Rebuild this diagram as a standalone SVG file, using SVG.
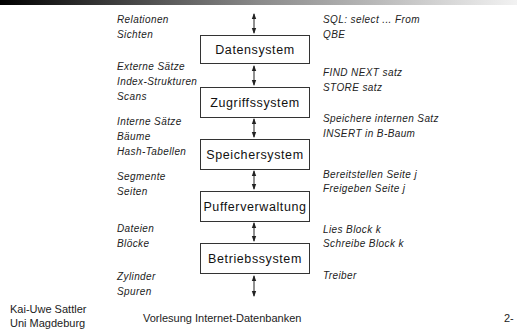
<svg xmlns="http://www.w3.org/2000/svg" width="517" height="335" viewBox="0 0 517 335">
<defs>
<linearGradient id="bar" x1="0" y1="0" x2="1" y2="0">
<stop offset="0" stop-color="#000"/>
<stop offset="0.5" stop-color="#8a8a8a"/>
<stop offset="1" stop-color="#f2f2f2"/>
</linearGradient>
<marker id="ah" viewBox="0 0 6 6" refX="5" refY="3" markerWidth="6" markerHeight="6" orient="auto-start-reverse" markerUnits="userSpaceOnUse">
<path d="M0,0.8 L6,3 L0,5.2 z" fill="#222"/>
</marker>
<style>
.box{fill:#fff;stroke:#333;stroke-width:1}
.bl{font-family:"Liberation Sans",Arial,sans-serif;font-size:12.5px;letter-spacing:0.6px;fill:#111;text-anchor:middle}
.t{font-family:"Liberation Sans",Arial,sans-serif;font-size:10px;font-style:italic;letter-spacing:0.4px;fill:#222}
.f{font-family:"Liberation Sans",Arial,sans-serif;font-size:11px;fill:#222}
.c{stroke:#222;stroke-width:1;fill:none;marker-start:url(#ah);marker-end:url(#ah)}
</style>
</defs>
<rect x="0" y="0" width="517" height="5" fill="url(#bar)"/>
<g id="connectors">
<line class="c" x1="254" y1="14" x2="254" y2="33"/>
<line class="c" x1="254" y1="66" x2="254" y2="85"/>
<line class="c" x1="254" y1="119" x2="254" y2="137"/>
<line class="c" x1="254" y1="171" x2="254" y2="189"/>
<line class="c" x1="254" y1="223" x2="254" y2="241"/>
<line class="c" x1="254" y1="276" x2="254" y2="296"/>
</g>
<g id="datensystem"><rect class="box" x="200.5" y="35.5" width="109" height="28"/><text class="bl" x="255" y="54">Datensystem</text></g>
<g id="zugriffssystem"><rect class="box" x="200.5" y="87.5" width="109" height="30"/><text class="bl" x="255" y="107">Zugriffssystem</text></g>
<g id="speichersystem"><rect class="box" x="200.5" y="139.5" width="109" height="30"/><text class="bl" x="255" y="159">Speichersystem</text></g>
<g id="pufferverwaltung"><rect class="box" x="200.5" y="191.5" width="109" height="30"/><text class="bl" x="255" y="211">Pufferverwaltung</text></g>
<g id="betriebssystem"><rect class="box" x="200.5" y="243.5" width="109" height="30"/><text class="bl" x="255" y="263">Betriebssystem</text></g>
<g id="left-labels">
<text class="t" x="117" y="23">Relationen</text>
<text class="t" x="117" y="38">Sichten</text>
<text class="t" x="117" y="70">Externe Sätze</text>
<text class="t" x="117" y="85">Index-Strukturen</text>
<text class="t" x="117" y="100">Scans</text>
<text class="t" x="117" y="125">Interne Sätze</text>
<text class="t" x="117" y="140">Bäume</text>
<text class="t" x="117" y="155">Hash-Tabellen</text>
<text class="t" x="117" y="180">Segmente</text>
<text class="t" x="117" y="195">Seiten</text>
<text class="t" x="117" y="232">Dateien</text>
<text class="t" x="117" y="247">Blöcke</text>
<text class="t" x="117" y="280">Zylinder</text>
<text class="t" x="117" y="295">Spuren</text>
</g>
<g id="right-labels">
<text class="t" x="323" y="23">SQL: select ...  From</text>
<text class="t" x="323" y="38">QBE</text>
<text class="t" x="323" y="76">FIND NEXT satz</text>
<text class="t" x="323" y="91">STORE satz</text>
<text class="t" x="323" y="122">Speichere internen Satz</text>
<text class="t" x="323" y="137">INSERT in B-Baum</text>
<text class="t" x="323" y="178">Bereitstellen Seite j</text>
<text class="t" x="323" y="192">Freigeben Seite j</text>
<text class="t" x="323" y="233">Lies Block k</text>
<text class="t" x="323" y="247">Schreibe Block k</text>
<text class="t" x="323" y="279">Treiber</text>
</g>
<g id="footer">
<text class="f" x="10" y="313">Kai-Uwe Sattler</text>
<text class="f" x="10" y="327">Uni Magdeburg</text>
<text class="f" x="143" y="322">Vorlesung Internet-Datenbanken</text>
<text class="f" x="504" y="322">2-</text>
</g>
</svg>
